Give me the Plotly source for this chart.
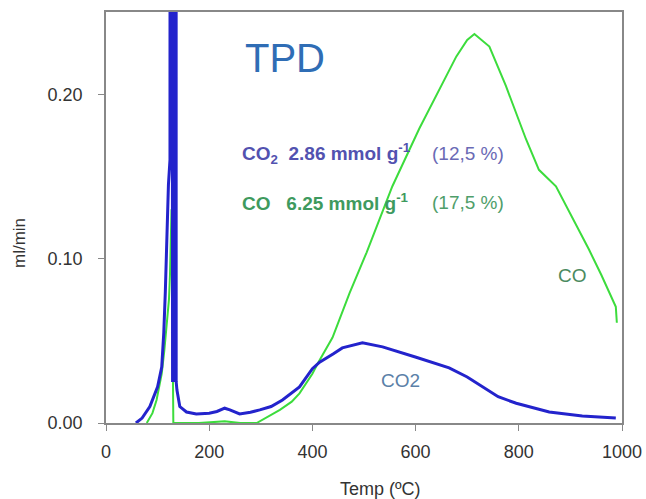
import plotly.graph_objects as go

# CO2 signal (temperature °C, ml/min)
co2_temp = [58, 70, 85, 100, 108, 112, 115, 118, 121, 124, 125,
            129, 129.5, 130, 130.5, 131, 131.5, 132, 132.5, 133, 133.5, 134, 134.5, 135, 135.5, 136,
            137.5, 143, 156, 175, 200, 215, 230, 240, 259, 280, 298, 320, 342,
            375, 400, 414, 440, 458, 497, 536, 601, 665, 700, 729, 760, 795,
            830, 859, 923, 988]
co2_val = [0.0, 0.003, 0.010, 0.022, 0.034, 0.055, 0.080, 0.115, 0.145, 0.160, 2.0,
           0.025, 2.0, 0.025, 2.0, 0.025, 2.0, 0.025, 2.0, 0.025, 2.0, 0.025, 2.0, 0.025, 2.0, 0.025,
           0.020, 0.010, 0.0067, 0.0055, 0.006, 0.007, 0.009, 0.008, 0.0055, 0.0065, 0.008, 0.010, 0.014,
           0.022, 0.033, 0.037, 0.042, 0.0457, 0.0488, 0.0463, 0.040, 0.0335, 0.028, 0.022, 0.016, 0.012,
           0.009, 0.0067, 0.0043, 0.003]

# CO signal
co_temp = [79, 90, 98, 108, 113, 118, 122, 124, 127, 130.5, 132, 180, 230, 260, 292,
           310, 337, 360, 375, 400, 410, 439, 472, 505, 555, 607, 646, 679, 700, 714,
           743, 775, 814, 839, 872, 903, 936, 960, 988, 990]
co_val = [0.0, 0.006, 0.014, 0.030, 0.044, 0.060, 0.075, 0.090, 0.130, 0.0, 0.0, 0.0, 0.001, 0.0, 0.0,
          0.003, 0.008, 0.013, 0.018, 0.030, 0.036, 0.052, 0.079, 0.1037, 0.144, 0.179, 0.203, 0.223, 0.233, 0.2366,
          0.229, 0.205, 0.1726, 0.154, 0.144, 0.1256, 0.1055, 0.090, 0.0707, 0.061]

x_ticks = [0, 200, 400, 600, 800, 1000]
y_ticks = [0.0, 0.10, 0.20]

FONT = "Liberation Sans, Arial, sans-serif"

fig = go.Figure()
fig.add_trace(go.Scatter(x=co_temp, y=co_val, mode="lines",
                         line=dict(color="#3cdc3c", width=2), showlegend=False))
fig.add_trace(go.Scatter(x=co2_temp, y=co2_val, mode="lines",
                         line=dict(color="#2323cc", width=3), showlegend=False))

# plot area: x 106..622, y 12..423 in a 646x499 page
L, R, T, B = 106, 622, 12, 423
W, H = R - L, B - T


def px(xp, yp):
    return (xp - L) / W, (B - yp) / H


annots = [
    (285, 58, "TPD", 40, "#2f6db5", "center", 0),
    (240, 153, "<b>CO<sub>2</sub>  2.86 mmol g<sup>-1</sup></b>", 19, "#5252b0", "left", 0),
    (430, 153, "(12,5 %)", 19, "#6a6ab5", "left", 0),
    (240, 202, "<b>CO   6.25 mmol g<sup>-1</sup></b>", 19, "#3e9a5e", "left", 0),
    (430, 202, "(17,5 %)", 19, "#4f9e6a", "left", 0),
    (572, 275, "CO", 19, "#4a8a60", "center", 0),
    (400, 380, "CO2", 19, "#5a80a8", "center", 0),
    (380, 489, "Temp (ºC)", 18, "#333333", "center", 0),
    (19, 243, "ml/min", 17, "#333333", "center", -90),
]
for xp, yp, text, size, color, xanchor, ang in annots:
    ax, ay = px(xp, yp)
    fig.add_annotation(xref="paper", yref="paper", x=ax, y=ay, text=text, showarrow=False,
                       xanchor=xanchor, yanchor="middle", textangle=ang,
                       font=dict(size=size, color=color, family=FONT))

fig.update_layout(
    width=646, height=499,
    margin=dict(l=L, r=646 - R, t=T, b=499 - B, autoexpand=False),
    plot_bgcolor="white", paper_bgcolor="white",
    font=dict(family=FONT, size=18, color="#333333"),
    xaxis=dict(range=[0, 1000], tickvals=x_ticks, ticks="outside", ticklen=6,
               tickcolor="#888888", showline=True, linecolor="#888888", linewidth=1.5,
               mirror=True, showgrid=False, zeroline=False, ticklabelstandoff=6,
               tickfont=dict(size=18)),
    yaxis=dict(range=[0, 0.25], tickvals=y_ticks, tickformat=".2f", ticks="outside", ticklen=6,
               tickcolor="#888888", showline=True, linecolor="#888888", linewidth=1.5,
               mirror=True, showgrid=False, zeroline=False, ticklabelstandoff=12,
               tickfont=dict(size=18)),
)

fig.write_html("out.html", config={"displayModeBar": False},
               post_script="document.body.style.margin='0';document.body.style.overflow='hidden';")
